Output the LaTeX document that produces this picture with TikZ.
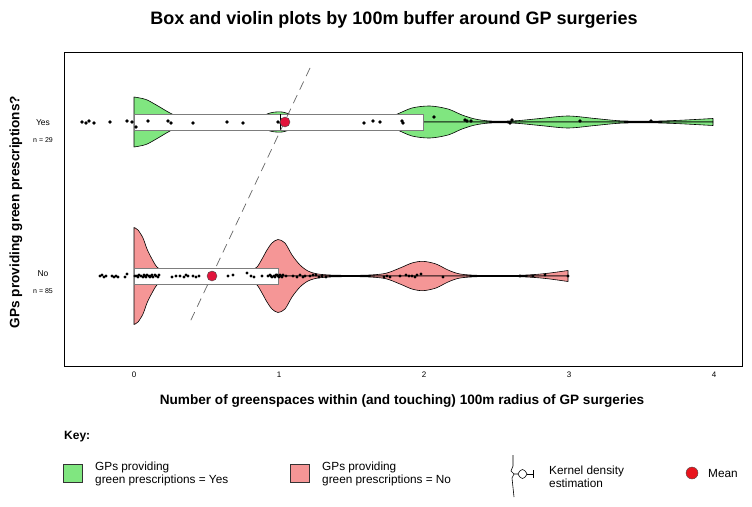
\documentclass[tikz,border=0pt]{standalone}
\usepackage{fontspec}
\setmainfont{Liberation Sans}
\usepackage{tikz}

\definecolor{yesgreen}{RGB}{128,230,128}
\definecolor{nopink}{RGB}{245,150,150}
\definecolor{meanred}{RGB}{225,20,60}
\definecolor{keyred}{RGB}{232,20,28}
\definecolor{boxgrey}{RGB}{125,125,125}

\begin{document}
\begin{tikzpicture}[x=1pt,y=-1pt,
	violin/.style={draw=black,line width=0.6pt,line join=round},
	iqr/.style={draw=boxgrey,fill=white,line width=0.9pt},
	mean/.style={circle,fill=meanred,draw=black!70,line width=0.4pt,inner sep=0pt,minimum size=10pt},
	ticklab/.style={inner sep=0pt,font=\fontsize{8}{9}\selectfont},
	grouplab/.style={inner sep=0pt,font=\fontsize{8.5}{10}\selectfont},
	countlab/.style={inner sep=0pt,font=\fontsize{7}{8}\selectfont},
	axislab/.style={inner sep=0pt,font=\fontsize{13.6}{16}\selectfont\bfseries},
	keybox/.style={draw=black!80,line width=0.6pt,inner sep=0pt,minimum width=19pt,minimum height=18pt},
	keytext/.style={anchor=west,align=left,inner sep=0pt,font=\fontsize{11.8}{13}\selectfont}]

	\useasboundingbox (0,0) rectangle (752,506);
	\fill[white] (0,0) rectangle (752,506);

	\node[inner sep=0pt,font=\fontsize{18}{21}\selectfont\bfseries] (title) at (394,20) {Box and violin plots by 100m buffer around GP surgeries};

	\draw[line width=0.8pt] (64,52) rectangle (742,366);

	% violins, one half at a time
	\foreach \s in {1,-1}{
		\begin{scope}[shift={(0,122)},yscale=\s]
			\filldraw[violin,fill=yesgreen] (134,0) -- plot[smooth] coordinates {(134,-25) (146,-22.5) (158,-16) (170,-9) (182,-4) (200,-1.5) (230,-1) (252,-2) (262,-6) (272,-9.5) (282,-10) (292,-7) (300,-3) (315,-1.2) (350,-1) (378,-2) (395,-7) (412,-14) (430,-16) (448,-13) (462,-7) (475,-3) (490,-1) (515,-1.2) (540,-3.5) (568,-6) (595,-3.5) (620,-1.2) (650,-0.8) (675,-1.5) (695,-2.5) (713,-3.5)} -- (713,0) -- cycle;
		\end{scope}
		\begin{scope}[shift={(0,276)},yscale=\s]
			\filldraw[violin,fill=nopink] (134,0) -- plot[smooth] coordinates {(134,-48.5) (138,-46) (143,-38) (147,-27) (152,-17) (157,-9) (165,-4) (180,-2) (215,-1.5) (240,-2) (250,-5) (257,-9) (262,-17) (267,-26) (272,-33) (278,-36.5) (285,-33) (292,-21) (300,-11) (308,-5) (318,-2) (335,-0.8) (365,-0.8) (385,-2.5) (400,-8) (412,-13) (423,-14.7) (436,-12) (448,-6) (460,-2) (480,-0.6) (515,-0.6) (535,-1.5) (550,-3) (568,-5.5)} -- (568,0) -- cycle;
		\end{scope}
	}

	% boxes and medians
	\draw[iqr] (134,114) rectangle (423,130);
	\draw[line width=0.8pt] (280,114) -- (280,130);
	\draw[iqr] (134,268) rectangle (278,284);

	% observations
	\foreach \x/\y in {82/122,86/123,89/121,94/123,110/122,127/121,132/122,136/127,148/121,168/121,171/123,193/123,227/122,243/123,278/122,281/123,364/123,373/121,380/122,402/121,403/123,434/117,465/120,467/121,471/121,510/123,512/120,580/121,651/121}
		\fill (\x,\y) circle (1.8);
	\foreach \x/\y in {100/276,102/275,104/277,106/276,112/276,114/277,116/276,118/277,125/277,127/274,135/276,137/276,139/275,141/276,143/277,145/276,147/275,149/276,151/276,153/277,156/276,159/275,138/277,144/275,146/277,150/277,152/275,155/275,158/277,172/277,176/276,180/276,184/277,186/275,188/276,193/276,196/277,199/276,228/276,233/275,247/273,251/276,254/277,262/276,268/276,270/275,272/277,274/276,276/275,278/276,279/277,281/276,283/275,271/276,275/277,277/275,280/275,282/277,286/276,293/276,297/277,300/275,305/276,310/276,316/275,322/276,326/277,303/277,313/275,319/277,384/277,387/276,390/277,400/276,406/275,409/276,412/276,415/277,417/275,421/274,443/277,520/276,533/276,545/275,568/276}
		\fill (\x,\y) circle (1.6);

	\coordinate (trendtop) at (310,68);
	\coordinate (trendbot) at (190,322);
	\draw[black!60,line width=0.7pt,dash pattern=on 9pt off 6pt] (trendtop) -- (trendbot);

	\node[mean] (yesmean) at (285,122) {};
	\node[mean] (nomean) at (212,276) {};

	% axis text
	\foreach \v in {0,...,4}
		\node[ticklab] (tick\v) at ({134+145*\v},375) {\v};
	\node[axislab] (xlab) at (402,401) {Number of greenspaces within (and touching) 100m radius of GP surgeries};
	\node[axislab,rotate=90] (ylab) at (16,212) {GPs providing green prescriptions?};
	\node[grouplab] (yeslab) at (43,123) {Yes};
	\node[countlab] (yesn) at (43,140) {n = 29};
	\node[grouplab] (nolab) at (43,274) {No};
	\node[countlab] (non) at (43,291) {n = 85};

	% key
	\node[anchor=west,inner sep=0pt,font=\fontsize{12}{14}\selectfont\bfseries] (key) at (64,437) {Key:};
	\node[keybox,fill=yesgreen] (yeskey) at (72.5,473) {};
	\node[keytext] (yestext) at (95,474) {GPs providing\\green prescriptions = Yes};
	\node[keybox,fill=nopink] (nokey) at (299.5,473) {};
	\node[keytext] (notext) at (322,474) {GPs providing\\green prescriptions = No};
	\draw[line width=0.6pt,line join=round] (513,455) -- (513,466) -- (511,471) -- (514,474) -- (512,478) -- (514,497);
	\draw[line width=0.6pt] (514,474) -- (518,474) .. controls (521,468) and (524,468) .. (527,474) .. controls (524,480) and (521,480) .. (518,474);
	\draw[line width=0.6pt] (527,474) -- (533,474) (533,470) -- (533,478);
	\node[keytext] (kdetext) at (549,477) {Kernel density\\estimation};
	\node[circle,fill=keyred,draw=black!70,line width=0.4pt,inner sep=0pt,minimum size=12pt] (meankey) at (692,473) {};
	\node[keytext] (meantext) at (708,473) {Mean};
\end{tikzpicture}
\end{document}
